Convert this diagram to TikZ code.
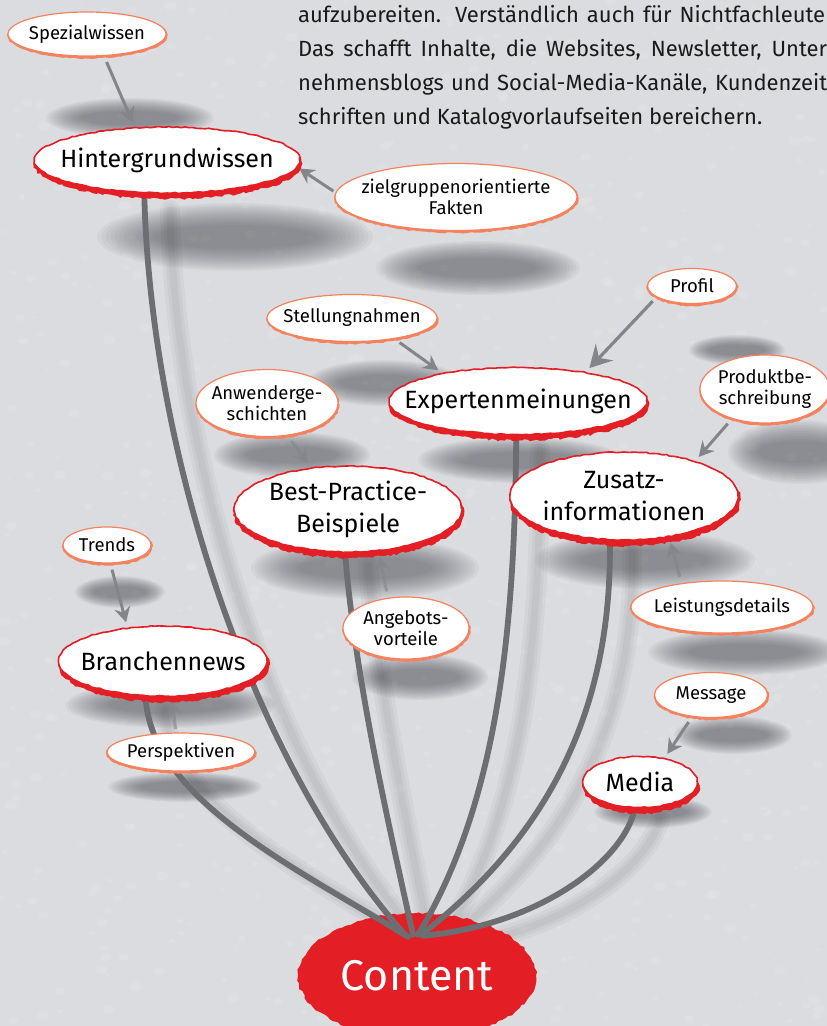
\documentclass[tikz,border=0pt]{standalone}
\usepackage{fontspec}
\setmainfont{Fira Sans}
\usetikzlibrary{shapes.geometric,arrows.meta,decorations.pathmorphing}
\definecolor{bgc}{HTML}{DADCDF}
\definecolor{redc}{HTML}{E31E24}
\definecolor{orc}{HTML}{F4825F}
\definecolor{linec}{HTML}{6D6E71}
\definecolor{arrc}{HTML}{84858A}
\definecolor{shc}{HTML}{5A5C61}
\definecolor{txtc}{HTML}{1A1A1A}
\pgfdeclarelayer{bg}
\pgfdeclarelayer{mid}
\pgfsetlayers{bg,mid,main}
\newcommand{\blob}[4]{%
  \foreach \k in {0,...,13}{%
    \fill[shc, opacity=0.06] (#1,#2) ellipse ({#3*(1-\k*0.032)} and {#4*(1-\k*0.05)});
  }}
\newcommand{\mainnode}[6]{%
  \fill[redc, decorate, decoration={random steps,segment length=3pt,amplitude=1.2pt}] (#2+1,#3+4) ellipse ({#4/2+1.5} and {#5/2+2});
  \node[mainshape, minimum width=#4pt, minimum height=#5pt, label={[mainlbl]center:{#6}}] (#1) at (#2,#3) {};
}
\newcommand{\satnode}[6]{%
  \fill[orc, decorate, decoration={random steps,segment length=3pt,amplitude=0.6pt}] (#2+0.5,#3+1.5) ellipse ({#4/2+0.8} and {#5/2+1});
  \node[satshape, minimum width=#4pt, minimum height=#5pt, label={[satlbl]center:{#6}}] (#1) at (#2,#3) {};
}
\begin{document}
\begin{tikzpicture}[x=1pt,y=-1pt,
  mainshape/.style={ellipse, draw=redc, line width=1.6pt, fill=white, inner sep=0pt, outer sep=0pt,
    decorate, decoration={random steps,segment length=4pt,amplitude=0.6pt}},
  satshape/.style={ellipse, draw=orc, line width=1.2pt, fill=white, inner sep=0pt, outer sep=0pt},
  mainlbl/.style={font=\fontsize{25}{32}\selectfont, align=center, inner sep=0pt, text=black},
  satlbl/.style={font=\fontsize{18.5}{21}\selectfont, align=center, inner sep=0pt, text=black},
  conn/.style={draw=linec, line width=5.8pt, line cap=round},
  connsh/.style={draw=black, line cap=round},
  sarrow/.style={draw=arrc, line width=3pt, shorten <=7pt, shorten >=6pt,
    -{Stealth[length=15pt,width=16pt,inset=5pt]}},
  barrow/.style={draw=arrc, line width=3.2pt, shorten <=6pt, shorten >=6pt,
    -{Stealth[length=22pt,width=24pt,inset=8pt]}},
  paraline/.style={anchor=base west, inner sep=0pt, font=\fontsize{22}{26}\selectfont, text=txtc}
]
\useasboundingbox (0,0) rectangle (827,1026);

\begin{pgfonlayer}{bg}
\fill[bgc] (0,0) rectangle (827,1026);
% texture
\pgfmathsetseed{11}
\foreach \i in {1,...,900}{%
  \pgfmathsetmacro{\tx}{rnd*827}%
  \pgfmathsetmacro{\ty}{rnd*1026}%
  \pgfmathsetmacro{\tr}{1.5+rnd*5}%
  \fill[white, opacity=0.09] (\tx,\ty) ellipse ({\tr} and {\tr*0.7});
}
% node shadows
\blob{130}{118}{84}{20}
\blob{235}{237}{138}{34}
\blob{478}{268}{102}{27}
\blob{385}{383}{78}{23}
\blob{737}{350}{48}{15}
\blob{292}{455}{78}{23}
\blob{520}{460}{102}{23}
\blob{800}{452}{72}{32}
\blob{645}{560}{110}{29}
\blob{365}{568}{114}{31}
\blob{120}{592}{45}{16}
\blob{420}{677}{68}{23}
\blob{745}{652}{97}{23}
\blob{170}{705}{105}{23}
\blob{733}{735}{59}{19}
\blob{185}{787}{77}{15}
\blob{653}{812}{59}{16}
% connector shadows
\foreach \w in {20,13,7}{
  \draw[connsh, line width=\w pt, opacity=0.035] (170,210) .. controls (175,460) and (270,770) .. (425,945);
  \draw[connsh, line width=\w pt, opacity=0.035] (165,710) .. controls (170,810) and (320,880) .. (425,948);
  \draw[connsh, line width=\w pt, opacity=0.035] (368,565) .. controls (378,690) and (410,840) .. (430,940);
  \draw[connsh, line width=\w pt, opacity=0.035] (540,450) .. controls (540,640) and (525,810) .. (440,945);
  \draw[connsh, line width=\w pt, opacity=0.035] (632,552) .. controls (635,690) and (592,830) .. (440,945);
  \draw[connsh, line width=\w pt, opacity=0.035] (660,820) .. controls (645,870) and (560,935) .. (440,948);
}
% content
\node[ellipse, fill=redc, minimum width=238pt, minimum height=126pt, inner sep=0pt,
  decorate, decoration={random steps,segment length=4pt,amplitude=1.2pt},
  label={[text=white, font=\fontsize{43}{46}\selectfont, inner sep=0pt]center:Content}] (content) at (417,976) {};
\end{pgfonlayer}

% paragraph
\node[paraline] (p1) at (298,22) {\makebox[527pt][s]{aufzubereiten. Verständlich auch für Nichtfachleute}};
\node[paraline] (p2) at (298,56) {\makebox[529pt][s]{Das schafft Inhalte, die Websites, Newsletter, Unter}};
\node[paraline] (p3) at (298,90) {\makebox[529pt][s]{nehmensblogs und Social-Media-Kanäle, Kundenzeit}};
\node[paraline] (p4) at (298,124) {schriften und Katalogvorlaufseiten bereichern.};

% main nodes
\mainnode{hint}{167}{160}{265}{66}{Hintergrundwissen}
\mainnode{expert}{518}{401}{257}{67}{Expertenmeinungen}
\mainnode{zusatz}{624}{496}{228}{88}{Zusatz-\\informationen}
\mainnode{best}{348}{509}{227}{86}{Best-Practice-\\Beispiele}
\mainnode{bran}{163}{661}{208}{70}{Branchennews}
\mainnode{media}{640}{782}{114}{51}{Media}

% satellite nodes
\satnode{spez}{87}{34}{158}{44}{Spezialwissen}
\satnode{ziel}{456}{197}{242}{67}{zielgruppenorientierte\\Fakten}
\satnode{profil}{692}{286}{89}{35}{Profil}
\satnode{stell}{352}{318}{170}{47}{Stellungnahmen}
\satnode{anw}{267}{403}{142}{67}{Anwenderge-\\schichten}
\satnode{prod}{765}{389}{130}{68}{Produktbe-\\schreibung}
\satnode{trends}{107}{545}{88}{36}{Trends}
\satnode{angeb}{406}{628}{126}{62}{Angebots-\\vorteile}
\satnode{leist}{722}{607}{182}{52}{Leistungsdetails}
\satnode{message}{711}{695}{113}{45}{Message}
\satnode{persp}{181}{752}{148}{38}{Perspektiven}

\begin{pgfonlayer}{mid}
% main connectors to Content
\draw[conn] (hint.235) .. controls (150,450) and (250,760) .. ([xshift=-12pt,yshift=-22pt]content.north);
\draw[conn] (bran.243) .. controls (150,800) and (300,870) .. ([xshift=-9pt,yshift=-24pt]content.north);
\draw[conn] (best.266) .. controls (355,680) and (390,830) .. ([xshift=-4pt,yshift=-22pt]content.north);
\draw[conn] (expert.267) .. controls (515,620) and (500,800) .. ([xshift=1pt,yshift=-22pt]content.north);
\draw[conn] (zusatz.252) .. controls (612,680) and (570,820) .. ([xshift=4pt,yshift=-22pt]content.north);
\draw[conn] (media.259) .. controls (625,860) and (540,925) .. ([xshift=6pt,yshift=-23pt]content.north);
% small arrows
\draw[sarrow] (spez.-52) -- (hint.135);
\draw[sarrow, shorten <=3pt, shorten >=3pt] (ziel.178) -- (hint.-3);
\draw[sarrow] (stell.-26) -- (expert.160);
\draw[barrow] (profil.197) -- (expert.23);
\draw[sarrow, opacity=0.55] (anw.-58) -- (best.132);
\draw[sarrow] (prod.222) -- (zusatz.26);
\draw[sarrow] (trends.-80) -- (bran.137);
\draw[sarrow, opacity=0.6, shorten <=4pt, shorten >=4pt] (persp.105) -- (bran.-76);
\draw[sarrow, opacity=0.55] (angeb.121) -- (best.-54);
\draw[sarrow, opacity=0.65] (leist.150) -- (zusatz.-42);
\draw[sarrow] (message.229) -- (media.44);
\end{pgfonlayer}
\end{tikzpicture}
\end{document}
